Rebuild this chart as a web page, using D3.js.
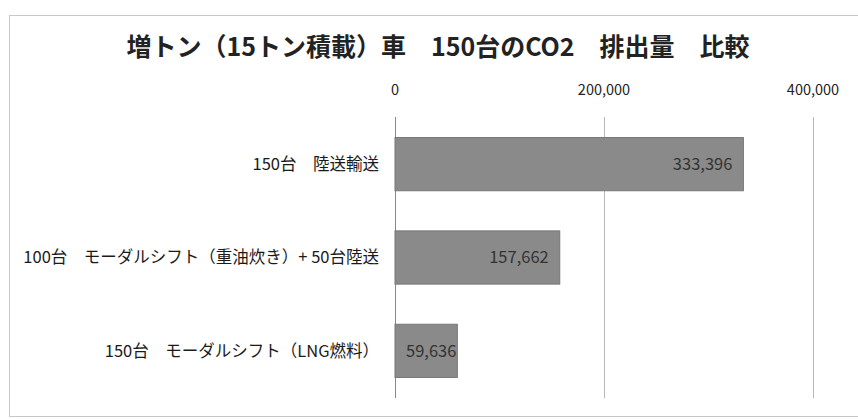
<!DOCTYPE html>
<html>
<head>
<meta charset="utf-8">
<script src="https://cdn.jsdelivr.net/npm/d3@7"></script>
<style>
  body { margin: 0; background: #fff; }
  text { font-family: "Noto Sans CJK JP", sans-serif; }
</style>
</head>
<body>
<script>
var categories = [
    "150台\u3000陸送輸送",
    "100台\u3000モーダルシフト（重油炊き）+ 50台陸送",
    "150台\u3000モーダルシフト（LNG燃料）"
];
var values = [333396, 157662, 59636];
var tickValues = [0, 200000, 400000];
var title = "増トン（15トン積載）車\u3000150台のCO2\u3000排出量\u3000比較";

var width = 858, height = 419;
var margin = { top: 117, left: 395, right: 45, bottom: 21 };

var svg = d3.select("body")
    .append("svg")
    .attr("width", width)
    .attr("height", height);

// frame
svg.append("rect")
    .attr("x", 9.5)
    .attr("y", 15.5)
    .attr("width", 860)
    .attr("height", 401)
    .style("fill", "none")
    .style("stroke", "#c8c8c8");

var x = d3.scaleLinear()
    .domain([0, 400000])
    .range([margin.left, margin.left + 418]);

var y = d3.scaleBand()
    .domain(categories)
    .range([margin.top, height - margin.bottom])
    .paddingInner(0.43)
    .paddingOuter(0.22);

svg.append("text")
    .attr("x", 438)
    .attr("y", 56)
    .attr("text-anchor", "middle")
    .style("font-size", "25px")
    .style("font-weight", "bold")
    .style("fill", "#222")
    .text(title);

// grid
svg.selectAll(".grid")
    .data(tickValues)
    .enter().append("line")
    .attr("x1", function(d) { return Math.round(x(d)) + 0.5; })
    .attr("x2", function(d) { return Math.round(x(d)) + 0.5; })
    .attr("y1", margin.top)
    .attr("y2", height - margin.bottom)
    .style("stroke", function(d) { return d === 0 ? "#888" : "#b8b8b8"; });

var fmt = d3.format(",");

svg.selectAll(".tick")
    .data(tickValues)
    .enter().append("text")
    .attr("x", function(d) { return x(d); })
    .attr("y", 95)
    .attr("text-anchor", "middle")
    .style("font-size", "14.5px")
    .style("fill", "#222")
    .text(function(d) { return fmt(d); });

svg.selectAll(".cat")
    .data(categories)
    .enter().append("text")
    .attr("x", 379)
    .attr("y", function(d) { return y(d) + y.bandwidth() / 2; })
    .attr("dy", "0.35em")
    .attr("text-anchor", "end")
    .style("font-size", "16.5px")
    .style("fill", "#1a1a1a")
    .text(function(d) { return d; });

svg.selectAll(".bar")
    .data(values)
    .enter().append("rect")
    .attr("x", x(0))
    .attr("y", function(d, i) { return y(categories[i]); })
    .attr("width", function(d) { return x(d) - x(0); })
    .attr("height", y.bandwidth())
    .style("fill", "#8a8a8a")
    .style("stroke", "#777")
    .style("stroke-width", 1);

svg.selectAll(".val")
    .data(values)
    .enter().append("text")
    .attr("y", function(d, i) { return y(categories[i]) + y.bandwidth() / 2; })
    .attr("dy", "0.35em")
    .attr("text-anchor", "end")
    .style("font-size", "16.5px")
    .style("fill", "#333")
    .text(function(d) { return fmt(d); })
    .attr("x", function(d) {
        // keep the label inside the plot when the bar is too short for it
        var w = this.getComputedTextLength();
        return Math.max(x(d) - 11, x(0) + 11 + w);
    });
</script>
</body>
</html>
